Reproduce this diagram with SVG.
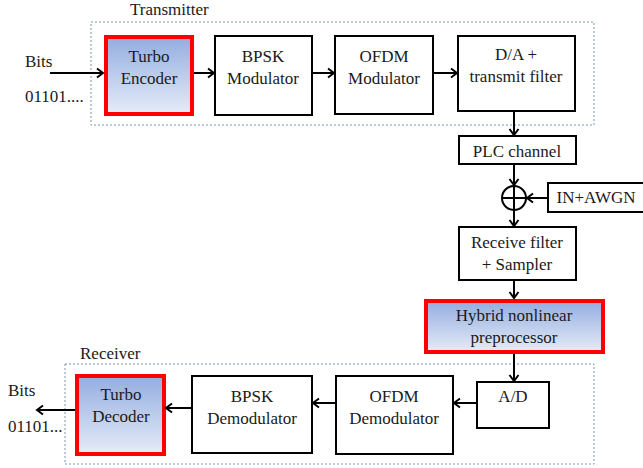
<svg xmlns="http://www.w3.org/2000/svg" width="643" height="468" viewBox="0 0 643 468">
<defs>
<linearGradient id="g" x1="0" y1="0" x2="0" y2="1">
<stop offset="0" stop-color="#93ade0"/>
<stop offset="1" stop-color="#e6ecf8"/>
</linearGradient>
<marker id="a" markerWidth="12" markerHeight="12" refX="9" refY="6" orient="auto" markerUnits="userSpaceOnUse">
<path d="M3,1.5 L9,6 L3,10.5" fill="none" stroke="#000" stroke-width="2"/>
</marker>
<style>
text{font-family:"Liberation Serif","Times New Roman",serif;font-size:17px;fill:#1a1a1a;text-anchor:middle}
.l{text-anchor:start}
.b{fill:#fff;stroke:#000;stroke-width:2}
.r{fill:url(#g);stroke:#f00;stroke-width:4}
.d{fill:none;stroke:#7f93b5;stroke-width:1;stroke-dasharray:2,2}
.c line,.c path{stroke:#000;stroke-width:2;fill:none}
</style>
</defs>
<rect width="643" height="468" fill="#fff"/>
<rect class="d" x="91" y="22" width="503" height="103"/>
<rect class="d" x="65" y="364" width="529" height="100"/>
<text class="l" x="130" y="15">Transmitter</text>
<text class="l" x="80" y="359">Receiver</text>
<text class="l" x="25" y="67">Bits</text>
<text class="l" x="25" y="102">01101....</text>
<text class="l" x="8" y="396">Bits</text>
<text class="l" x="8" y="432">01101...</text>
<g id="turbo-encoder"><rect class="r" x="106" y="37" width="86" height="77"/><text x="149" y="62">Turbo</text><text x="149" y="84">Encoder</text></g>
<g id="bpsk-mod"><rect class="b" x="215" y="36" width="97" height="79"/><text x="263" y="62">BPSK</text><text x="263" y="84">Modulator</text></g>
<g id="ofdm-mod"><rect class="b" x="335" y="36" width="98" height="78"/><text x="384" y="62">OFDM</text><text x="384" y="84">Modulator</text></g>
<g id="da"><rect class="b" x="458" y="36" width="117" height="75"/><text x="516" y="60">D/A +</text><text x="516" y="82">transmit filter</text></g>
<g id="plc"><rect class="b" x="459" y="136" width="117" height="28"/><text x="517" y="157">PLC channel</text></g>
<g id="sum"><circle cx="514" cy="198" r="12" fill="#fff" stroke="#000" stroke-width="2"/><line x1="502" y1="198" x2="526" y2="198" stroke="#000" stroke-width="2"/><line x1="514" y1="186" x2="514" y2="210" stroke="#000" stroke-width="2"/></g>
<g id="noise"><rect class="b" x="548" y="183" width="100" height="29"/><text x="596" y="203">IN+AWGN</text></g>
<g id="rxfilter"><rect class="b" x="459" y="227" width="117" height="53"/><text x="517" y="248">Receive filter</text><text x="517" y="270">+ Sampler</text></g>
<g id="hybrid"><rect class="r" x="426" y="301" width="177" height="51"/><text x="514" y="321">Hybrid nonlinear</text><text x="514" y="343">preprocessor</text></g>
<g id="ad"><rect class="b" x="477" y="382" width="72" height="46"/><text x="513" y="402">A/D</text></g>
<g id="ofdm-demod"><rect class="b" x="336" y="376" width="117" height="78"/><text x="394" y="402">OFDM</text><text x="394" y="424">Demodulator</text></g>
<g id="bpsk-demod"><rect class="b" x="192" y="376" width="120" height="77"/><text x="252" y="402">BPSK</text><text x="252" y="424">Demodulator</text></g>
<g id="turbo-decoder"><rect class="r" x="77" y="376" width="87" height="78"/><text x="121" y="400">Turbo</text><text x="121" y="422">Decoder</text></g>
<g class="c">
<line x1="50" y1="73" x2="103" y2="73" marker-end="url(#a)"/>
<line x1="194" y1="73" x2="214" y2="73" marker-end="url(#a)"/>
<line x1="312" y1="73" x2="334" y2="73" marker-end="url(#a)"/>
<line x1="433" y1="73" x2="457" y2="73" marker-end="url(#a)"/>
<line x1="514" y1="111" x2="514" y2="135" marker-end="url(#a)"/>
<line x1="514" y1="164" x2="514" y2="185" marker-end="url(#a)"/>
<line x1="548" y1="198" x2="527" y2="198" marker-end="url(#a)"/>
<line x1="514" y1="210" x2="514" y2="226" marker-end="url(#a)"/>
<line x1="514" y1="280" x2="514" y2="298" marker-end="url(#a)"/>
<line x1="514" y1="354" x2="514" y2="381" marker-end="url(#a)"/>
<line x1="477" y1="403" x2="454" y2="403" marker-end="url(#a)"/>
<line x1="336" y1="403" x2="313" y2="403" marker-end="url(#a)"/>
<line x1="192" y1="408" x2="166" y2="408" marker-end="url(#a)"/>
<line x1="75" y1="410" x2="37" y2="410" marker-end="url(#a)"/>
</g>
</svg>
